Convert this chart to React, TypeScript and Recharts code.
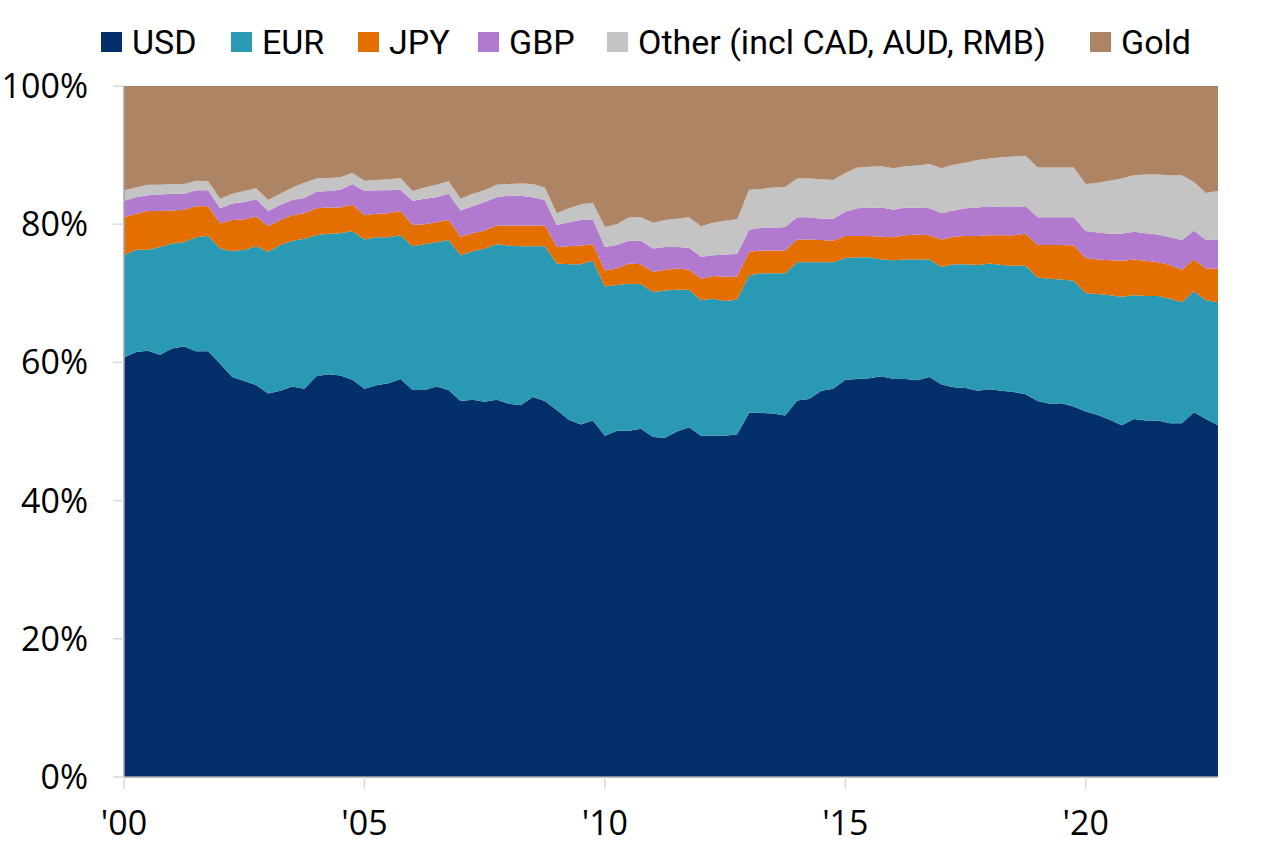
import React from 'react';
import { AreaChart, Area, XAxis, YAxis, Legend } from 'recharts';

// quarterly shares of global FX reserves + gold, 2000Q1 .. 2022Q4 (in %)
const quarters: string[] = [];
for (let y = 2000; y <= 2022; y++) {
  for (let q = 1; q <= 4; q++) quarters.push(`${y}Q${q}`);
}

const usd = [
  60.7, 61.5, 61.7, 61.1, 62.0, 62.3, 61.6, 61.6, 59.8, 57.9, 57.3, 56.7,
  55.5, 55.9, 56.5, 56.2, 58.0, 58.3, 58.1, 57.5, 56.2, 56.7, 57.0, 57.6,
  56.0, 56.0, 56.5, 56.0, 54.4, 54.6, 54.3, 54.6, 54.0, 53.8, 55.0, 54.4,
  53.1, 51.7, 51.0, 51.6, 49.4, 50.1, 50.1, 50.4, 49.2, 49.1, 50.0, 50.6,
  49.4, 49.4, 49.4, 49.6, 52.7, 52.7, 52.6, 52.3, 54.5, 54.7, 55.9, 56.2,
  57.5, 57.6, 57.7, 58.0, 57.6, 57.6, 57.4, 57.9, 56.8, 56.4, 56.3, 55.9,
  56.1, 55.9, 55.7, 55.4, 54.4, 54.0, 54.1, 53.6, 52.9, 52.4, 51.7, 50.9,
  51.8, 51.6, 51.6, 51.2, 51.2, 52.8, 51.8, 50.9,
];
const eur = [
  14.8, 14.8, 14.6, 15.6, 15.2, 15.1, 16.5, 16.7, 16.7, 18.2, 19.0, 20.1,
  20.5, 21.1, 21.1, 21.7, 20.4, 20.3, 20.6, 21.5, 21.6, 21.4, 21.1, 20.8,
  20.8, 21.1, 20.9, 21.7, 21.1, 21.5, 22.2, 22.5, 22.9, 23.0, 21.8, 22.4,
  21.2, 22.5, 23.2, 23.1, 21.6, 21.1, 21.3, 20.9, 21.0, 21.3, 20.5, 19.9,
  19.6, 19.8, 19.5, 19.5, 19.9, 20.2, 20.3, 20.6, 20.0, 19.8, 18.6, 18.3,
  17.6, 17.6, 17.5, 16.9, 17.2, 17.3, 17.5, 17.0, 17.0, 17.8, 17.9, 18.2,
  18.2, 18.2, 18.3, 18.6, 17.9, 18.1, 17.9, 18.2, 17.1, 17.5, 18.0, 18.6,
  17.9, 18.0, 18.0, 18.0, 17.5, 17.5, 17.2, 17.8,
];
const jpy = [
  5.5, 5.2, 5.6, 5.2, 4.8, 4.7, 4.5, 4.3, 3.6, 4.5, 4.4, 4.3,
  3.7, 3.6, 3.7, 3.7, 3.9, 3.8, 3.7, 3.8, 3.5, 3.4, 3.5, 3.5,
  3.1, 2.9, 2.9, 2.9, 2.7, 2.6, 2.6, 2.7, 2.9, 3.0, 3.0, 3.0,
  2.4, 2.6, 2.7, 2.4, 2.3, 2.4, 2.9, 2.9, 2.9, 3.0, 3.1, 2.9,
  3.1, 3.3, 3.5, 3.3, 3.4, 3.3, 3.3, 3.3, 3.3, 3.3, 3.2, 3.1,
  3.2, 3.1, 3.1, 3.3, 3.3, 3.5, 3.6, 3.5, 4.0, 4.0, 4.1, 4.2,
  4.1, 4.3, 4.4, 4.6, 4.7, 4.9, 5.0, 5.1, 5.1, 5.0, 5.1, 5.2,
  5.2, 5.1, 4.9, 4.9, 4.7, 4.6, 4.6, 4.9,
];
const gbp = [
  2.4, 2.4, 2.3, 2.4, 2.4, 2.3, 2.3, 2.3, 2.2, 2.4, 2.5, 2.5,
  2.2, 2.2, 2.2, 2.2, 2.4, 2.4, 2.6, 3.0, 3.5, 3.4, 3.3, 3.1,
  3.5, 3.7, 3.6, 3.8, 3.8, 3.9, 4.1, 4.1, 4.3, 4.3, 4.1, 3.7,
  3.2, 3.5, 3.7, 3.6, 3.4, 3.4, 3.3, 3.4, 3.4, 3.3, 3.1, 3.2,
  3.2, 3.0, 3.2, 3.3, 3.2, 3.3, 3.3, 3.4, 3.2, 3.2, 3.1, 3.2,
  3.5, 4.0, 4.1, 4.2, 4.0, 4.0, 3.9, 3.9, 3.8, 3.8, 4.0, 4.1,
  4.2, 4.1, 4.1, 4.0, 4.0, 4.0, 4.0, 4.1, 3.9, 3.9, 3.8, 3.9,
  4.0, 4.0, 4.0, 4.0, 4.3, 4.2, 4.1, 4.2,
];
const other = [
  1.5, 1.4, 1.5, 1.4, 1.4, 1.4, 1.4, 1.3, 1.4, 1.4, 1.6, 1.6,
  1.6, 1.6, 1.8, 2.2, 1.9, 1.9, 1.8, 1.6, 1.5, 1.5, 1.6, 1.7,
  1.4, 1.6, 1.8, 1.8, 1.7, 1.8, 1.7, 1.8, 1.7, 1.8, 1.9, 1.8,
  1.7, 2.0, 2.3, 2.4, 2.9, 3.0, 3.4, 3.4, 3.7, 3.9, 4.1, 4.4,
  4.4, 4.7, 4.9, 5.0, 5.8, 5.6, 5.8, 5.8, 5.6, 5.6, 5.7, 5.6,
  5.6, 5.9, 5.9, 6.0, 6.0, 6.0, 6.1, 6.4, 6.5, 6.6, 6.6, 6.9,
  6.9, 7.2, 7.3, 7.3, 7.2, 7.2, 7.2, 7.2, 6.8, 7.2, 7.7, 8.0,
  8.2, 8.5, 8.7, 9.0, 9.4, 7.0, 6.8, 7.0,
];
const gold = [
  15.1, 14.7, 14.3, 14.3, 14.2, 14.2, 13.7, 13.8, 16.3, 15.6, 15.2, 14.8,
  16.5, 15.6, 14.7, 14.0, 13.4, 13.3, 13.2, 12.6, 13.7, 13.6, 13.5, 13.3,
  15.2, 14.7, 14.3, 13.8, 16.3, 15.6, 15.1, 14.3, 14.2, 14.1, 14.2, 14.7,
  18.4, 17.7, 17.1, 16.9, 20.4, 20.0, 19.0, 19.0, 19.8, 19.4, 19.2, 19.0,
  20.3, 19.8, 19.5, 19.3, 15.0, 14.9, 14.7, 14.6, 13.4, 13.4, 13.5, 13.6,
  12.6, 11.8, 11.7, 11.6, 11.9, 11.6, 11.5, 11.3, 11.9, 11.4, 11.1, 10.7,
  10.5, 10.3, 10.2, 10.1, 11.8, 11.8, 11.8, 11.8, 14.2, 14.0, 13.7, 13.4,
  12.9, 12.8, 12.8, 12.9, 12.9, 13.9, 15.5, 15.2,
];

const xTicks = [0, 20, 40, 60, 80];
const xTickLabels = ["'00", "'05", "'10", "'15", "'20"];
const yTicks = [0, 20, 40, 60, 80, 100];

const series = [
  { key: 'usd', name: 'USD', color: '#03306b' },
  { key: 'eur', name: 'EUR', color: '#2a9ab4' },
  { key: 'jpy', name: 'JPY', color: '#e26f00' },
  { key: 'gbp', name: 'GBP', color: '#b27acf' },
  { key: 'other', name: 'Other (incl CAD, AUD, RMB)', color: '#c3c4c3' },
  { key: 'gold', name: 'Gold', color: '#ae8564' },
];

const data = quarters.map((q, i) => ({
  q,
  i,
  usd: usd[i],
  eur: eur[i],
  jpy: jpy[i],
  gbp: gbp[i],
  other: other[i],
  gold: gold[i],
}));

const tickFont = { fontFamily: '"Open Sans", sans-serif', fontSize: 34, fill: '#000' };

// left edge of each legend swatch, relative to the legend box
const legendLeft = [0, 130, 257, 377, 506, 989];

const renderLegend = () => (
  <div
    style={{
      position: 'relative',
      height: 40,
      fontFamily: 'Roboto, sans-serif',
      fontSize: 34,
      color: '#000',
      whiteSpace: 'nowrap',
    }}
  >
    {series.map((s, k) => (
      <div
        key={s.key}
        style={{ position: 'absolute', left: legendLeft[k], top: 0, height: 40, display: 'flex', alignItems: 'center' }}
      >
        <span style={{ width: 21, height: 20, background: s.color, marginRight: 10, display: 'inline-block' }} />
        <span style={{ lineHeight: '40px' }}>{s.name}</span>
      </div>
    ))}
  </div>
);

export default function App() {
  return (
    <div style={{ position: 'absolute', left: 0, top: 0, background: '#fff' }}>
      <AreaChart
        width={1278}
        height={866}
        data={data}
        margin={{ top: 86, right: 60, bottom: 0, left: 0 }}
      >
        <XAxis
          dataKey="i"
          type="number"
          domain={[0, 91]}
          ticks={xTicks}
          tickFormatter={(v: number) => xTickLabels[xTicks.indexOf(v)] ?? ''}
          height={89}
          tick={tickFont}
          tickSize={12}
          tickMargin={22}
          axisLine={{ stroke: '#a6a6a6', strokeWidth: 1.5 }}
          tickLine={{ stroke: '#d9d9d9', strokeWidth: 1.5 }}
          allowDataOverflow
        />
        <YAxis
          domain={[0, 100]}
          ticks={yTicks}
          tickFormatter={(v: number) => `${v}%`}
          width={124}
          tick={tickFont}
          tickSize={11}
          tickMargin={25}
          axisLine={{ stroke: '#a6a6a6', strokeWidth: 1.5 }}
          tickLine={{ stroke: '#d9d9d9', strokeWidth: 1.5 }}
          allowDataOverflow
        />
        <Legend
          layout="horizontal"
          verticalAlign="middle"
          align="center"
          wrapperStyle={{ top: 22, left: 101, width: 1170, height: 40 }}
          content={renderLegend}
        />
        {series.map((s) => (
          <Area
            key={s.key}
            type="linear"
            dataKey={s.key}
            name={s.name}
            stackId="1"
            stroke="none"
            fill={s.color}
            fillOpacity={1}
            dot={false}
            activeDot={false}
            isAnimationActive={false}
          />
        ))}
      </AreaChart>
    </div>
  );
}
